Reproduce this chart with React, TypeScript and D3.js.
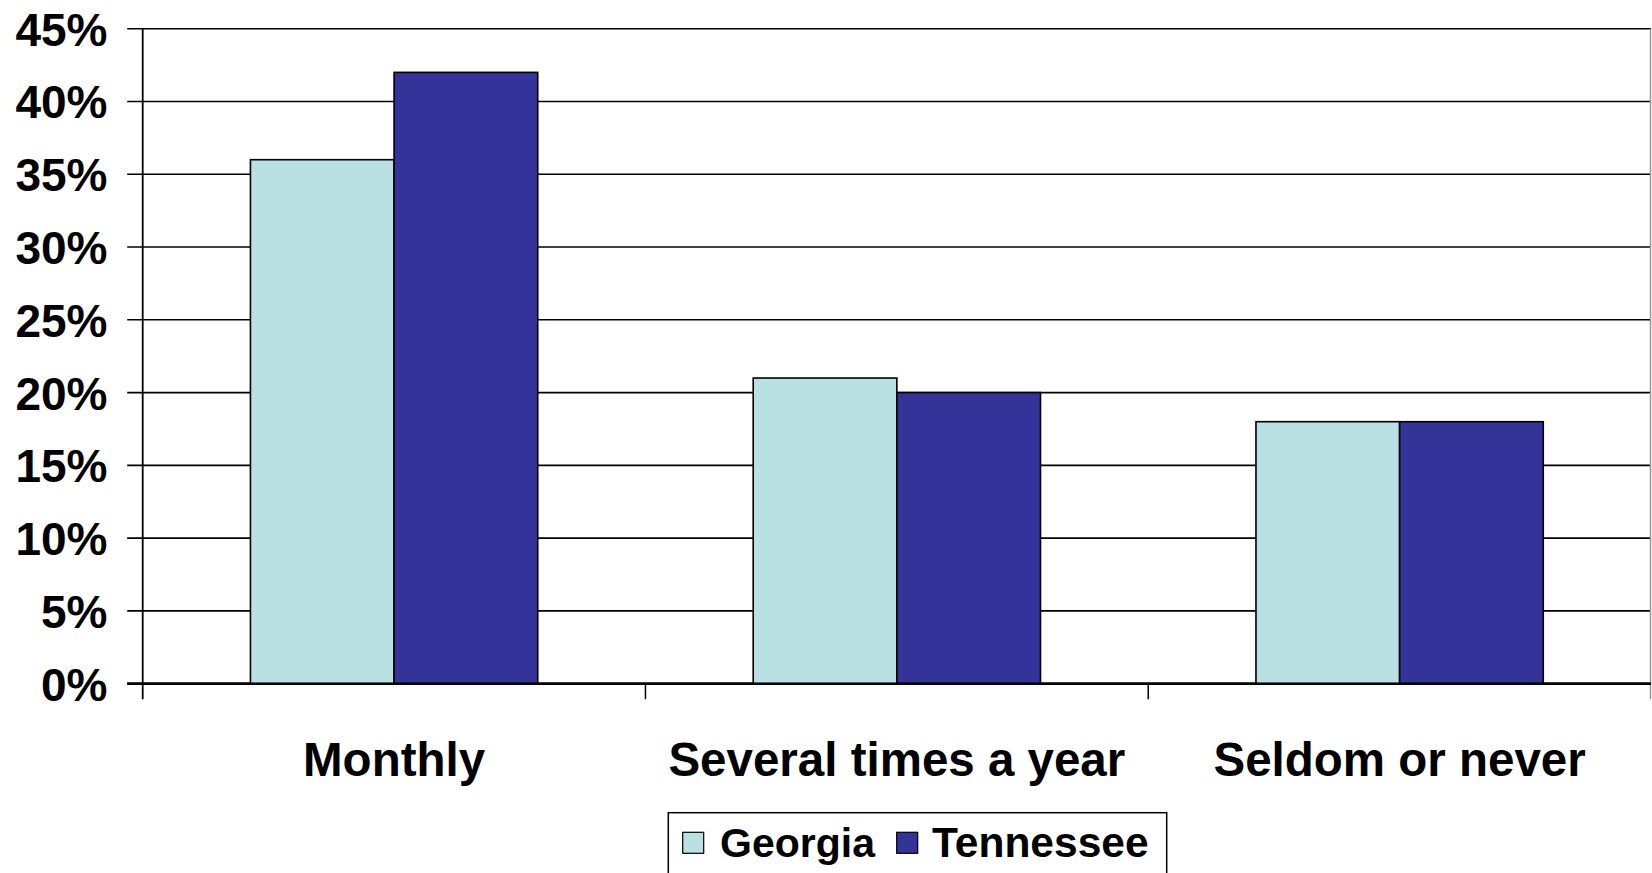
import React from "react";
import * as d3 from "d3";

// Survey frequency by state (percent of respondents)
const categories = ["Monthly", "Several times a year", "Seldom or never"];
const seriesNames = ["Georgia", "Tennessee"];
const georgia = [36, 21, 18];
const tennessee = [42, 20, 18];
const yTicks = [0, 5, 10, 15, 20, 25, 30, 35, 40, 45];
const seriesColors = ["#B9E0E3", "#333399"];

const W = 1652;
const H = 873;
const FONT = "Arial, 'Liberation Sans', Helvetica, sans-serif";

export default function App() {
  React.useEffect(() => {
    document.body.style.margin = "0";
    document.body.style.overflow = "hidden";
  }, []);

  const left = 142.7;
  const right = 1651;
  const top = 28.7;
  const bottom = 683.7;

  const y = d3.scaleLinear().domain([0, 45]).range([bottom, top]);
  const x0 = d3.scaleBand<string>().domain(categories).range([left, right]).padding(0);
  const bw = x0.bandwidth();
  // Excel-style gap width of 150%: bars fill 2 / 3.5 of each category
  const x1 = d3
    .scaleBand<string>()
    .domain(seriesNames)
    .range([(bw * 0.75) / 3.5, (bw * 2.75) / 3.5])
    .padding(0);

  const values = [georgia, tennessee];
  const boundaries = [...categories.map((c) => x0(c)!), right];

  return (
    <svg
      width={W}
      height={H}
      style={{ position: "absolute", left: 0, top: 0, background: "#fff" }}
      fontFamily={FONT}
    >
      {/* gridlines */}
      {yTicks.map((t) => (
        <line
          key={"g" + t}
          x1={left - 15.5}
          x2={right}
          y1={y(t)}
          y2={y(t)}
          stroke="#000"
          strokeWidth={t === 0 ? 2.4 : 1.6}
        />
      ))}
      {/* y tick labels */}
      {yTicks.map((t) => (
        <text
          key={"l" + t}
          x={107.5}
          y={y(t) + 17}
          textAnchor="end"
          fontSize={46}
          fontWeight="bold"
          fill="#000"
        >
          {t}%
        </text>
      ))}
      {/* bars */}
      {categories.map((c, i) =>
        seriesNames.map((s, j) => (
          <rect
            key={c + s}
            x={x0(c)! + x1(s)!}
            y={y(values[j][i])}
            width={x1.bandwidth()}
            height={y(0) - y(values[j][i])}
            fill={seriesColors[j]}
            stroke="#000"
            strokeWidth={1.6}
          />
        ))
      )}
      {/* axes */}
      <line x1={left} x2={left} y1={top} y2={bottom + 15.5} stroke="#000" strokeWidth={1.8} />
      <line x1={right - 0.5} x2={right - 0.5} y1={top} y2={bottom + 15.5} stroke="#999" strokeWidth={1.5} />
      <line x1={left - 15.5} x2={right} y1={bottom} y2={bottom} stroke="#000" strokeWidth={2.4} />
      {boundaries.slice(1, -1).map((bx, i) => (
        <line key={"t" + i} x1={bx} x2={bx} y1={bottom} y2={bottom + 15.5} stroke="#000" strokeWidth={1.5} />
      ))}
      {/* category labels */}
      {categories.map((c) => (
        <text
          key={"c" + c}
          x={x0(c)! + bw / 2}
          y={775.5}
          textAnchor="middle"
          fontSize={47.5}
          fontWeight="bold"
          fill="#000"
        >
          {c}
        </text>
      ))}
      {/* legend */}
      <rect x={668.3} y={812.7} width={498.4} height={80} fill="#fff" stroke="#000" strokeWidth={1.5} />
      {[
        { sx: 682.7, tx: 720 },
        { sx: 896.7, tx: 932 },
      ].map((p, j) => (
        <g key={"lg" + j}>
          <rect x={p.sx} y={832.3} width={21} height={21} fill={seriesColors[j]} stroke="#000" strokeWidth={1.2} />
          <text x={p.tx} y={856.7} fontSize={j === 0 ? 41 : 42.5} fontWeight="bold" fill="#000">
            {seriesNames[j]}
          </text>
        </g>
      ))}
    </svg>
  );
}
